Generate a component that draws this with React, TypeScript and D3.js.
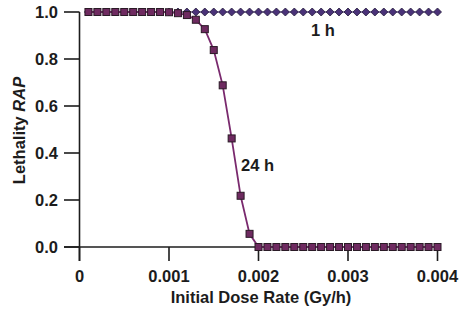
import React from "react";
import * as d3 from "d3";

const doses: number[] = [
  0.0001, 0.0002, 0.0003, 0.0004, 0.0005, 0.0006, 0.0007, 0.0008, 0.0009, 0.001,
  0.0011, 0.0012, 0.0013, 0.0014, 0.0015, 0.0016, 0.0017, 0.0018, 0.0019, 0.002,
  0.0021, 0.0022, 0.0023, 0.0024, 0.0025, 0.0026, 0.0027, 0.0028, 0.0029, 0.003,
  0.0031, 0.0032, 0.0033, 0.0034, 0.0035, 0.0036, 0.0037, 0.0038, 0.0039, 0.004,
];
const lethality1h: number[] = [
  1, 1, 1, 1, 1, 1, 1, 1, 1, 1,
  1, 1, 1, 1, 1, 1, 1, 1, 1, 1,
  1, 1, 1, 1, 1, 1, 1, 1, 1, 1,
  1, 1, 1, 1, 1, 1, 1, 1, 1, 1,
];
const lethality24h: number[] = [
  1, 1, 1, 1, 1, 1, 1, 1, 1, 0.999,
  0.995, 0.987, 0.967, 0.927, 0.838, 0.688, 0.462, 0.218, 0.056, 0.0,
  0, 0, 0, 0, 0, 0, 0, 0, 0, 0,
  0, 0, 0, 0, 0, 0, 0, 0, 0, 0,
];
const xTicks: number[] = [0, 0.001, 0.002, 0.003, 0.004];
const xTickLabels: string[] = ["0", "0.001", "0.002", "0.003", "0.004"];
const yTicks: number[] = [0, 0.2, 0.4, 0.6, 0.8, 1.0];

export default function App() {
  const W = 465, H = 313;
  const x = d3.scaleLinear().domain([0, 0.004]).range([79.5, 437.5]);
  const y = d3.scaleLinear().domain([0, 1]).range([247, 12]);
  const font = "'Liberation Sans', Arial, sans-serif";
  const ink = "#1c1c1c";
  const fs = 16.5;

  const line = d3.line<[number, number]>().x(d => x(d[0])).y(d => y(d[1]));
  const d1 = line(doses.map((d, i) => [d, lethality1h[i]] as [number, number])) || "";
  const d24 = line(doses.map((d, i) => [d, lethality24h[i]] as [number, number])) || "";

  return (
    <svg width={W} height={H} style={{ position: "absolute", left: 0, top: 0, background: "#fff" }}>
      {/* axes */}
      <line x1={64} x2={x(0.004)} y1={y(0)} y2={y(0)} stroke={ink} strokeWidth={1.6} />
      <line x1={x(0)} x2={x(0)} y1={y(1)} y2={261} stroke={ink} strokeWidth={1.6} />
      {yTicks.map(t => (
        <g key={"y" + t}>
          <line x1={64} x2={x(0)} y1={y(t)} y2={y(t)} stroke={ink} strokeWidth={1.6} />
          <text x={58} y={y(t)} dy="0.36em" textAnchor="end" fontFamily={font} fontWeight="bold" fontSize={fs} fill={ink}>
            {t.toFixed(1)}
          </text>
        </g>
      ))}
      {xTicks.map((t, i) => (
        <g key={"x" + t}>
          <line x1={x(t)} x2={x(t)} y1={y(0)} y2={261} stroke={ink} strokeWidth={1.6} />
          <text x={x(t)} y={282} textAnchor="middle" fontFamily={font} fontWeight="bold" fontSize={fs} fill={ink}>
            {xTickLabels[i]}
          </text>
        </g>
      ))}
      <text x={261} y={303} textAnchor="middle" fontFamily={font} fontWeight="bold" fontSize={fs} fill={ink}>
        Initial Dose Rate (Gy/h)
      </text>
      <text transform={`translate(25,${y(0.5) + 1}) rotate(-90)`} textAnchor="middle" fontFamily={font} fontWeight="bold" fontSize={fs} fill={ink}>
        Lethality <tspan fontStyle="italic">RAP</tspan>
      </text>

      {/* 1 h series */}
      <path d={d1} fill="none" stroke="#3b2a66" strokeWidth={1.2} />
      {doses.map((d, i) => {
        const cx = x(d), cy = y(lethality1h[i]);
        const r = 4;
        return (
          <path key={"d" + i} d={`M${cx},${cy - r}L${cx + r},${cy}L${cx},${cy + r}L${cx - r},${cy}Z`}
            fill="#4a3278" stroke="#231a3a" strokeWidth={0.8} />
        );
      })}

      {/* 24 h series */}
      <path d={d24} fill="none" stroke="#7a2a6e" strokeWidth={1.8} />
      {doses.map((d, i) => {
        const cx = x(d), cy = y(lethality24h[i]);
        const s = 7;
        return (
          <rect key={"s" + i} x={cx - s / 2} y={cy - s / 2} width={s} height={s}
            fill="#6e2a60" stroke="#2a1a26" strokeWidth={1} />
        );
      })}

      <text x={311} y={36} fontFamily={font} fontWeight="bold" fontSize={fs} fill={ink}>1 h</text>
      <text x={241} y={171} fontFamily={font} fontWeight="bold" fontSize={fs} fill={ink}>24 h</text>
    </svg>
  );
}
